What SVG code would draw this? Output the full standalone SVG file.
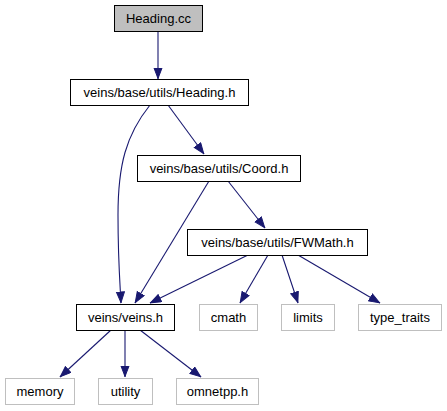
<svg xmlns="http://www.w3.org/2000/svg" width="447" height="411" viewBox="0 0 447 411">
<style>
.n rect{fill:#fff;stroke:#000;stroke-width:1}
.g rect{fill:#fff;stroke:#bfbfbf;stroke-width:1}
.root rect{fill:#bfbfbf;stroke:#000;stroke-width:1}
text{font-family:"Liberation Sans",Arial,sans-serif;font-size:13px;fill:#000;text-anchor:middle}
.e path{fill:none;stroke:#191970;stroke-width:1.1;marker-end:url(#a)}
</style>
<defs>
<marker id="a" markerUnits="userSpaceOnUse" markerWidth="12" markerHeight="10" refX="11.5" refY="4.5" orient="auto">
<path d="M0.5,0.5 L11,4.5 L0.5,8.5 z" fill="#191970" stroke="#191970" stroke-width="1"/>
</marker>
</defs>
<rect width="447" height="411" fill="#fff"/>
<g class="e" id="edges">
<path d="M158,32 L158,79"/>
<path d="M150,105 C126,135 118,165 118,215 C118,260 120,283 121,303"/>
<path d="M168,105 L204,154"/>
<path d="M209,181 L135,303"/>
<path d="M228,181 L265,228"/>
<path d="M248,255 L150,303"/>
<path d="M268,255 L240,303"/>
<path d="M282,255 L298,303"/>
<path d="M298,255 L380,303"/>
<path d="M111,330 L60,377"/>
<path d="M125,330 L125,377"/>
<path d="M140,330 L201,377"/>
</g>
<g id="heading_cc" class="root"><rect x="114.5" y="5.5" width="88" height="26"/><text x="158.5" y="23">Heading.cc</text></g>
<g id="heading_h" class="n"><rect x="70.5" y="79.5" width="178" height="26"/><text x="159.5" y="97">veins/base/utils/Heading.h</text></g>
<g id="coord_h" class="n"><rect x="137.5" y="155.5" width="163" height="26"/><text x="219" y="173">veins/base/utils/Coord.h</text></g>
<g id="fwmath_h" class="n"><rect x="187.5" y="229.5" width="180" height="26"/><text x="277.5" y="247">veins/base/utils/FWMath.h</text></g>
<g id="veins_h" class="n"><rect x="76.5" y="304.5" width="98" height="26"/><text x="125.5" y="322">veins/veins.h</text></g>
<g id="cmath" class="g"><rect x="199.5" y="304.5" width="58" height="26"/><text x="228.5" y="322">cmath</text></g>
<g id="limits" class="g"><rect x="281.5" y="304.5" width="53" height="26"/><text x="308" y="322">limits</text></g>
<g id="type_traits" class="g"><rect x="358.5" y="304.5" width="83" height="26"/><text x="400" y="322">type_traits</text></g>
<g id="memory" class="g"><rect x="5.5" y="378.5" width="69" height="26"/><text x="40" y="396">memory</text></g>
<g id="utility" class="g"><rect x="98.5" y="378.5" width="54" height="26"/><text x="125.5" y="396">utility</text></g>
<g id="omnetpp_h" class="g"><rect x="176.5" y="378.5" width="82" height="26"/><text x="217.5" y="396">omnetpp.h</text></g>
</svg>
